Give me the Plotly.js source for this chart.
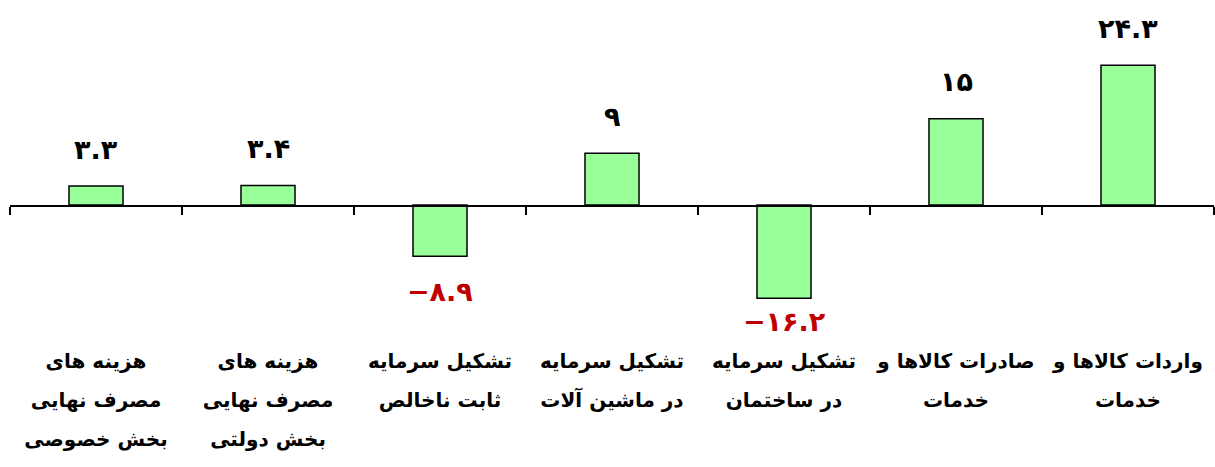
<!DOCTYPE html>
<html>
<head>
<meta charset="utf-8">
<script src="https://cdn.plot.ly/plotly-3.0.1.min.js"></script>
<style>
  html, body { margin: 0; padding: 0; background: #fff; }
  #chart { width: 1215px; height: 467px; }
</style>
</head>
<body>
<div id="chart"></div>
<script>
const categoryLines = [
    ['هزینه های', 'مصرف نهایی', 'بخش خصوصی'],
    ['هزینه های', 'مصرف نهایی', 'بخش دولتی'],
    ['تشکیل سرمایه', 'ثابت ناخالص'],
    ['تشکیل سرمایه', 'در ماشین آلات'],
    ['تشکیل سرمایه', 'در ساختمان'],
    ['صادرات کالاها و', 'خدمات'],
    ['واردات کالاها و', 'خدمات']
];
const values = [3.3, 3.4, -8.9, 9, -16.2, 15, 24.3];

// wide line spacing: outer tick font is large, the text itself is smaller
const categories = categoryLines.map(lines =>
    lines.map(s => '<span style="font-size:20px">' + s + '</span>').join('<br>'));

function toPersian(v) {
    const digits = '۰۱۲۳۴۵۶۷۸۹';
    const s = String(Math.abs(v)).replace(/\d/g, d => digits[d]);
    return v < 0 ? '\u200E\u2212' + s : s;
}

const font = 'DejaVu Sans, Noto Sans, sans-serif';

const trace = {
    x: categories,
    y: values,
    type: 'bar',
    marker: {color: '#99FF99', line: {color: '#000', width: 1.5}},
    hoverinfo: 'none'
};

const labels = values.map((v, i) => ({
    x: categories[i],
    y: v,
    text: '<b>' + toPersian(v) + '</b>',
    showarrow: false,
    yshift: v >= 0 ? 37 : (v < -12 ? -23 : -35),
    font: {family: font, size: 27, color: v >= 0 ? '#000' : '#C00000'}
}));

const layout = {
    width: 1215,
    height: 467,
    margin: {l: 10, r: 1, t: 20, b: 157},
    paper_bgcolor: '#fff',
    plot_bgcolor: '#fff',
    showlegend: false,
    bargap: 0.686,
    xaxis: {
        type: 'category',
        anchor: 'free',
        position: 0.362,
        showline: true,
        linecolor: '#000',
        linewidth: 1.5,
        ticks: 'outside',
        tickson: 'boundaries',
        ticklen: 8,
        tickwidth: 1.5,
        tickcolor: '#000',
        ticklabelstandoff: 125,
        tickfont: {family: font, size: 30, color: '#000', weight: 'bold'},
        showgrid: false,
        zeroline: false,
        automargin: false
    },
    yaxis: {
        range: [-18.26, 32.17],
        visible: false,
        showgrid: false,
        zeroline: false
    },
    annotations: labels
};

Plotly.newPlot('chart', [trace], layout, {staticPlot: true});
</script>
</body>
</html>
